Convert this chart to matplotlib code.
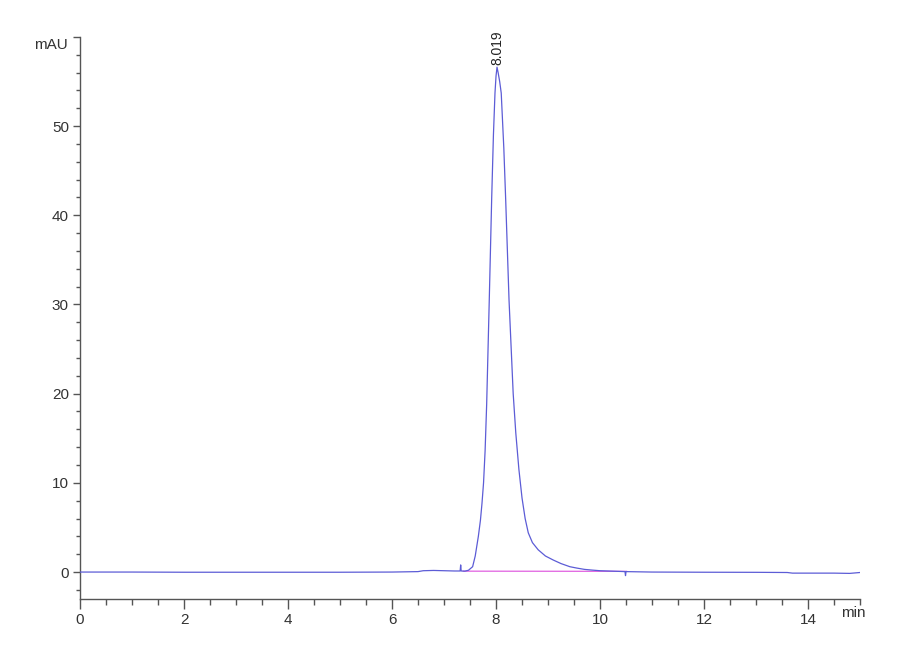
import matplotlib.pyplot as plt
from matplotlib.ticker import FixedLocator, MultipleLocator, FuncFormatter

# retention time (min) and absorbance (mAU)
time_min = [
    0.0, 1.0, 2.0, 3.0, 4.0, 5.0, 6.0, 6.5, 6.6, 6.8, 7.0, 7.2, 7.31,
    7.32, 7.33, 7.40, 7.47, 7.55, 7.60, 7.66, 7.70, 7.73, 7.76, 7.79,
    7.82, 7.87, 7.917, 7.95, 7.98, 8.00, 8.019, 8.04, 8.07, 8.10, 8.15,
    8.186, 8.25, 8.33, 8.38, 8.44, 8.50, 8.56, 8.62, 8.70, 8.81,
    8.95, 9.10, 9.25, 9.42, 9.55, 9.70, 9.85, 10.0, 10.25, 10.48, 10.49,
    10.50, 11.0, 12.0, 13.0, 13.6, 13.7, 14.0, 14.5, 14.8, 15.0,
]
absorbance = [
    0.0, 0.0, -0.02, -0.02, -0.02, -0.02, 0.0, 0.05, 0.15, 0.18, 0.15,
    0.12, 0.12, 0.8, 0.12, 0.1, 0.2, 0.6, 1.8, 4.0, 5.8, 7.7, 10.0, 13.6,
    18.8, 30.5, 42.0, 49.0, 53.7, 55.6, 56.6, 56.0, 55.0, 53.7, 47.5,
    41.7, 30.5, 20.0, 15.6, 11.5, 8.3, 6.0, 4.4, 3.3, 2.5,
    1.8, 1.35, 0.95, 0.6, 0.45, 0.3, 0.22, 0.15, 0.1, 0.05, -0.4,
    0.05, 0.0, -0.02, -0.03, -0.05, -0.12, -0.12, -0.12, -0.15, -0.05,
]

# integration baseline under the peak
baseline_time = [7.37, 10.51]
baseline_level = [0.1, 0.08]

peak_time = 8.019
peak_height = 56.6

x_major = [0, 2, 4, 6, 8, 10, 12, 14]
y_major = [0, 10, 20, 30, 40, 50, 60]

plt.rcParams["font.family"] = ["Liberation Sans Narrow", "Liberation Sans", "DejaVu Sans"]

fig = plt.figure(figsize=(9, 6.6), dpi=100)
ax = fig.add_axes([0.0889, 0.0927, 0.8667, 0.8515])

ax.plot(time_min, absorbance, color="#5c5cd6", linewidth=0.9, zorder=3)
ax.plot(baseline_time, baseline_level, color="#e060e0", linewidth=0.9, zorder=2)

ax.text(peak_time, peak_height + 0.2, f"{peak_time:.3f}", rotation=90,
        ha="center", va="bottom", fontsize=10, color="#222222")

ax.set_xlim(0, 15)
ax.set_ylim(-3, 60)

for side in ("top", "right"):
    ax.spines[side].set_visible(False)
for side in ("left", "bottom"):
    ax.spines[side].set_color("#555555")
    ax.spines[side].set_linewidth(1.0)

ax.xaxis.set_major_locator(FixedLocator(x_major))
ax.xaxis.set_minor_locator(MultipleLocator(0.5))
ax.yaxis.set_major_locator(FixedLocator(y_major))
ax.yaxis.set_minor_locator(MultipleLocator(2))
ax.yaxis.set_major_formatter(FuncFormatter(lambda v, p: "" if v == 60 else f"{v:g}"))

ax.tick_params(axis="x", which="major", direction="out", length=7, width=1,
               color="#555555", labelsize=11, labelcolor="#333333", pad=3)
ax.tick_params(axis="x", which="minor", direction="out", length=4, width=1,
               color="#555555")
ax.tick_params(axis="y", which="major", direction="out", length=5, width=1,
               color="#555555", labelsize=11, labelcolor="#333333", pad=3)
ax.tick_params(axis="y", which="minor", direction="out", length=3, width=1,
               color="#555555")

# axis unit labels sit where the last tick labels would be
ax.annotate("mAU", xy=(0, 60), xycoords="data", xytext=(-9, -6),
            textcoords="offset points", ha="right", va="center",
            fontsize=11, color="#333333", annotation_clip=False)
ax.annotate("min", xy=(14.87, -3), xycoords="data", xytext=(0, -5),
            textcoords="offset points", ha="center", va="top",
            fontsize=11, color="#333333", annotation_clip=False)

fig.savefig("out.png", dpi=100)
